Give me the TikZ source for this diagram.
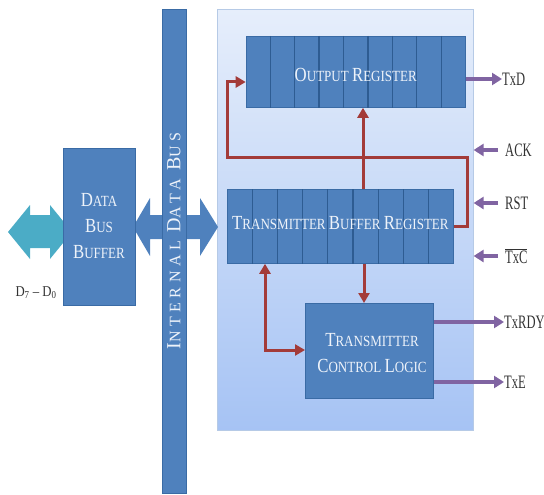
\documentclass[tikz,border=0pt]{standalone}
\usepackage{fontspec}
\setmainfont{Liberation Serif}
\usetikzlibrary{arrows.meta,calc}
\definecolor{boxblue}{HTML}{4F81BD}
\definecolor{boxedge}{HTML}{3A6BA5}
\definecolor{celline}{HTML}{2E5C92}
\definecolor{boxtxt}{HTML}{EEF3FA}
\definecolor{pantop}{HTML}{E6EEFB}
\definecolor{panbot}{HTML}{A6C3F4}
\definecolor{panedge}{HTML}{B6CAE6}
\definecolor{redc}{HTML}{A33B39}
\definecolor{purp}{HTML}{8064A2}
\definecolor{teal}{HTML}{4BACC6}
\definecolor{lbltxt}{HTML}{333333}
\newcommand\bc[1]{{\fontsize{20}{20}\selectfont #1}}
\newcommand\bcs[1]{{\fontsize{20}{20}\selectfont #1}}
\begin{document}
\begin{tikzpicture}[x=1pt,y=-1pt,
  box/.style={draw=boxedge, fill=boxblue, line width=0.8pt, inner sep=0pt},
  boxtext/.style={text=boxtxt, inner sep=0pt, font=\fontsize{15.5}{26}\selectfont},
  cell/.style={draw=celline, line width=1.2pt},
  rline/.style={draw=redc, line width=3pt},
  rarrow/.style={rline, -{Triangle[length=10pt,width=11pt]}},
  rdouble/.style={rline, {Triangle[length=10pt,width=11pt]}-{Triangle[length=10pt,width=11pt]}},
  parrow/.style={draw=purp, line width=3.5pt, -{Triangle[length=10pt,width=12pt]}},
  lbl/.style={text=lbltxt, inner sep=0pt, font=\fontsize{19}{19}\selectfont},
]
\useasboundingbox (0,0) rectangle (544,495);

% panel
\node[draw=panedge, line width=0.6pt, top color=pantop, bottom color=panbot,
      minimum width=256, minimum height=421, anchor=north west, inner sep=0pt] (panel) at (217,9) {};

% teal double arrow
\fill[teal] (8,232) -- (30,205) -- (30,215) -- (50,215) -- (50,205) -- (72,232)
  -- (50,259) -- (50,248) -- (30,248) -- (30,259) -- cycle;

% blue double arrow across bus
\fill[boxblue] (133,227) -- (150,198) -- (150,215) -- (200,215) -- (200,198) -- (218,227)
  -- (200,256) -- (200,239) -- (150,239) -- (150,256) -- cycle;

% internal data bus
\node[fill=boxblue, draw=boxedge, line width=0.4pt, minimum width=24, minimum height=484,
      anchor=north west, inner sep=0pt] (bus) at (162,9) {};
\node[rotate=90, text=boxtxt, inner sep=0pt, font=\fontsize{16}{16}\selectfont] (bustext) at (174,241)
  {\addfontfeatures{LetterSpace=28}\bcs{I}NTERNAL \bcs{D}ATA \bcs{B}US};

% data bus buffer
\node[box, minimum width=72, minimum height=157, anchor=north west] (dbb) at (63,148) {};
\node[boxtext] (dbbtext) at (99,227.5) {\scalebox{0.84}[1]{\begin{tabular}{@{}c@{}}\bc{D}ATA\\ \bc{B}US\\ \bc{B}UFFER\end{tabular}}};
\node[text=lbltxt, inner sep=0pt, font=\fontsize{15}{15}\selectfont] (dlab) at (36,293)
  {\scalebox{0.85}[1]{D\textsubscript{7} \textendash{} D\textsubscript{0}}};

% output register
\node[box, minimum width=219.3, minimum height=71, anchor=north west] (outreg) at (245.7,36) {};
\foreach \i in {1,...,8}
  \draw[cell] ($(outreg.north west)!\i/9!(outreg.north east)$) -- ($(outreg.south west)!\i/9!(outreg.south east)$);
\node[boxtext] (outtext) at ($(outreg.center)+(0,3)$) {\scalebox{0.84}[1]{\bc{O}UTPUT \bc{R}EGISTER}};

% transmitter buffer register
\node[box, minimum width=226, minimum height=74, anchor=north west] (tbr) at (227,189) {};
\foreach \i in {1,...,8}
  \draw[cell] ($(tbr.north west)!\i/9!(tbr.north east)$) -- ($(tbr.south west)!\i/9!(tbr.south east)$);
\node[boxtext] (tbrtext) at ($(tbr.center)+(0,-3)$) {\scalebox{0.84}[1]{\bc{T}RANSMITTER \bc{B}UFFER \bc{R}EGISTER}};

% transmitter control logic
\node[box, minimum width=128, minimum height=95, anchor=north west] (tcl) at (305,303) {};
\node[boxtext] (tcltext) at (372,354.5) {\scalebox{0.84}[1]{\begin{tabular}{@{}c@{}}\bc{T}RANSMITTER\\ \bc{C}ONTROL \bc{L}OGIC\end{tabular}}};

% red connectors
\coordinate (j1) at (467,157);
\coordinate (j2) at (227,157);
\coordinate (j3) at (227,82);
\coordinate (u) at (363,0);
\coordinate (d) at (364,0);
\coordinate (k) at (265,350);
\draw[rarrow] (tbr.east) -| (j1) -- (j2) -- (j3) -- (outreg.west |- j3);
\draw[rarrow] (tbr.north -| u) -- (outreg.south -| u);
\draw[rarrow] (tbr.south -| d) -- (tcl.north -| d);
\draw[rdouble] (tcl.west |- k) -| (tbr.south -| k);

% outputs
\node[lbl, anchor=west] (txd) at (502,79) {\scalebox{0.66}[1]{TxD}};
\node[lbl, anchor=west] (txrdy) at (504,322) {\scalebox{0.66}[1]{TxRDY}};
\node[lbl, anchor=west] (txe) at (504,382) {\scalebox{0.66}[1]{TxE}};
\draw[parrow] (outreg.east |- txd) -- (txd.west);
\draw[parrow] (tcl.east |- txrdy) -- (txrdy.west);
\draw[parrow] (tcl.east |- txe) -- (txe.west);

% inputs
\node[lbl, anchor=west] (ack) at (505,150) {\scalebox{0.66}[1]{ACK}};
\node[lbl, anchor=west] (rst) at (505,203) {\scalebox{0.66}[1]{RST}};
\node[lbl, anchor=west] (txc) at (505,256) {\scalebox{0.66}[1]{$\overline{\mbox{TxC}}$}};
\draw[parrow, shorten <=7pt] (ack.west) -- (panel.east |- ack);
\draw[parrow, shorten <=7pt] (rst.west) -- (panel.east |- rst);
\draw[parrow, shorten <=7pt] (txc.west) -- (panel.east |- txc);
\end{tikzpicture}
\end{document}
